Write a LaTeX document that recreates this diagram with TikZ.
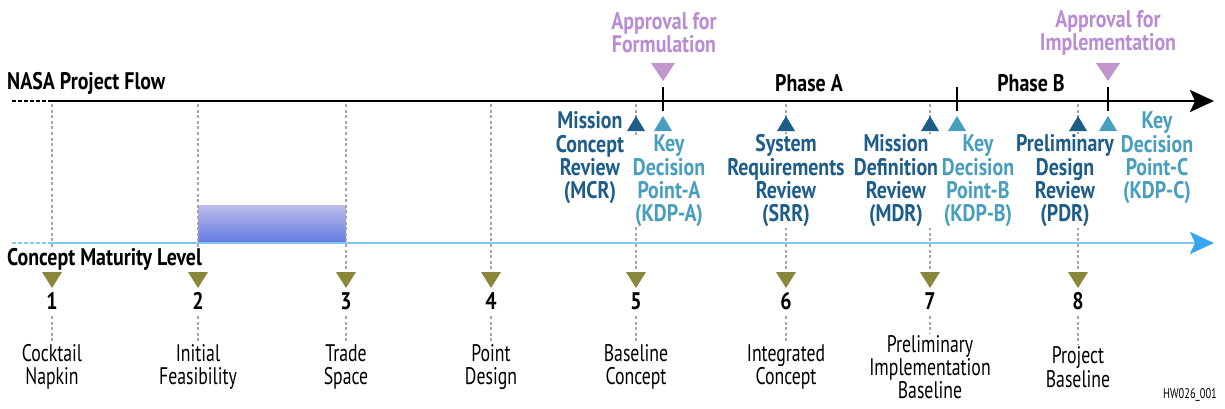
\documentclass[tikz,border=0pt]{standalone}
\usepackage{fontspec}
\setmainfont{PT Sans}[FakeStretch=0.74,BoldFeatures={FakeStretch=0.83}]
\usetikzlibrary{arrows.meta,calc}
\definecolor{dblue}{RGB}{30,92,138}
\definecolor{lblue}{RGB}{72,158,190}
\definecolor{purp}{RGB}{185,140,212}
\definecolor{purptri}{RGB}{192,150,205}
\definecolor{olivec}{RGB}{138,134,58}
\definecolor{cml}{RGB}{130,198,245}
\definecolor{cmltip}{RGB}{55,165,240}
\definecolor{dotgray}{RGB}{165,165,165}
\definecolor{boxtop}{RGB}{190,190,236}
\definecolor{boxbot}{RGB}{98,122,226}
\begin{document}
\begin{tikzpicture}[x=1pt,y=-1pt,
  bigf/.style={font=\fontsize{24}{23.3}\selectfont\bfseries},
  revlbl/.style={bigf, align=center, inner sep=0.5pt, fill=white, text=dblue},
  kdplbl/.style={bigf, align=center, inner sep=0.5pt, fill=white, text=lblue},
  apprlbl/.style={bigf, align=center, inner sep=0pt, text=purp},
  phaselbl/.style={bigf, inner sep=0pt},
  titlelbl/.style={bigf, inner sep=1pt, fill=white, anchor=west},
  numlbl/.style={bigf, inner sep=1pt, fill=white},
  cmllbl/.style={font=\fontsize{24}{23.3}\selectfont, align=center, inner sep=1pt, fill=white},
  dotline/.style={draw=dotgray, line width=1.8pt, dash pattern=on 3pt off 2.6pt},
  tick/.style={draw=black, line width=2.2pt},
]
\useasboundingbox (0,0) rectangle (1225,409);

% gradient box
\shade[top color=boxtop, bottom color=boxbot] (198,205) rectangle (346,242);

% coordinates
\foreach \i/\x in {1/52,2/198,3/346,4/491,5/636,6/786,7/930,8/1078}{
  \coordinate (top\i) at (\x,104);
  \coordinate (tri\i) at (\x,272);
  \coordinate (nb\i) at (\x,316);
  \coordinate (lb\i) at (\x,345);
}
\coordinate (bstart) at (12,101);
\coordinate (bsolid) at (52,101);
\coordinate (bend) at (1214,101);
\coordinate (cstart) at (12,243);
\coordinate (csolid) at (52,243);
\coordinate (cend) at (1214,243);

% vertical dotted lines
\foreach \i in {1,...,8}{
  \draw[dotline] (top\i) -- (tri\i);
  \draw[dotline] (nb\i) -- (lb\i);
}

% black project flow line
\draw[line width=2.6pt, dash pattern=on 4pt off 2pt] (bstart) -- (bsolid);
\draw[line width=2.6pt, -{Stealth[length=24pt,width=22pt,inset=5pt]}] (bsolid) -- (bend);
% concept maturity line
\draw[cml, line width=2.6pt, dash pattern=on 4pt off 2pt] (cstart) -- (csolid);
\draw[cml, line width=2.6pt, -{Stealth[length=24pt,width=22pt,inset=5pt,color=cmltip]}] (csolid) -- (cend);

% ticks
\foreach \x/\n in {663/ta,957/tb,1108/tc}{
  \coordinate (\n1) at (\x,87);
  \coordinate (\n2) at (\x,111);
  \draw[tick] (\n1) -- (\n2);
}

% purple approval triangles
\foreach \x in {663,1108}{
  \fill[purptri] ({\x-12},63) -- ({\x+12},63) -- (\x,81) -- cycle;
}
% dark blue review triangles
\foreach \x in {636,930,786,1078}{
  \fill[dblue] ({\x-9},131) -- ({\x+9},131) -- (\x,116) -- cycle;
}
% light blue KDP triangles
\foreach \x in {663,957,1108}{
  \fill[lblue] ({\x-9},131) -- ({\x+9},131) -- (\x,116) -- cycle;
}
% olive CML triangles
\foreach \i in {1,...,8}{
  \fill[olivec] ($(tri\i)+(-10,0)$) -- ($(tri\i)+(10,0)$) -- ($(tri\i)+(0,16)$) -- cycle;
}

% labels
\node[apprlbl] (appf) at (664,33) {Approval for\\Formulation};
\node[apprlbl] (appi) at (1108,33) {Approval for\\Implementation};
\node[phaselbl] (pha) at (809,83) {Phase A};
\node[phaselbl] (phb) at (1031,83) {Phase B};
\node[titlelbl] (npf) at (6,83) {NASA Project Flow};
\node[titlelbl] (cmlt) at (6,259) {Concept Maturity Level};

\node[revlbl] (mcr) at (590,158) {Mission\\Concept\\Review\\(MCR)};
\node[kdplbl] (kdpa) at (669,181) {Key\\Decision\\Point-A\\(KDP-A)};
\node[revlbl] (srr) at (786,181) {System\\Requirements\\Review\\(SRR)};
\node[revlbl] (mdr) at (896,181) {Mission\\Definition\\Review\\(MDR)};
\node[kdplbl] (kdpb) at (978,181) {Key\\Decision\\Point-B\\(KDP-B)};
\node[revlbl] (pdr) at (1065,181) {Preliminary\\Design\\Review\\(PDR)};
\node[kdplbl] (kdpc) at (1157,158) {Key\\Decision\\Point-C\\(KDP-C)};

\foreach \i/\x in {1/52,2/198,3/346,4/491,5/636,6/786,7/930,8/1078}{
  \node[numlbl] (n\i) at (\x,301) {\i};
}
\node[cmllbl] (c1) at (52,367) {Cocktail\\Napkin};
\node[cmllbl] (c2) at (198,367) {Initial\\Feasibility};
\node[cmllbl] (c3) at (346,367) {Trade\\Space};
\node[cmllbl] (c4) at (491,367) {Point\\Design};
\node[cmllbl] (c5) at (636,367) {Baseline\\Concept};
\node[cmllbl] (c6) at (786,367) {Integrated\\Concept};
\node[cmllbl] (c7) at (930,367) {Preliminary\\Implementation\\Baseline};
\node[cmllbl] (c8) at (1078,367) {Project\\Baseline};

\node[font=\fontsize{14}{15}\selectfont, anchor=east, inner sep=0pt] (hw) at (1217,395) {HW026\_001};
\end{tikzpicture}
\end{document}
